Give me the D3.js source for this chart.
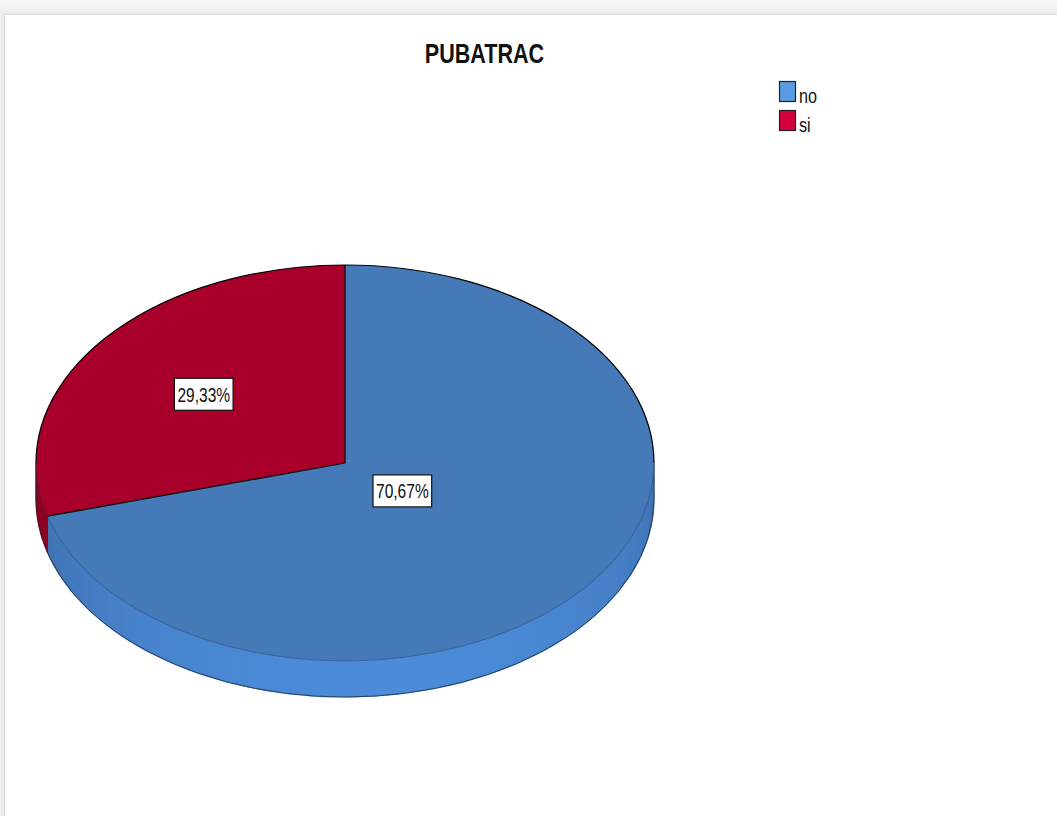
<!DOCTYPE html>
<html>
<head>
<meta charset="utf-8">
<script src="https://cdn.jsdelivr.net/npm/d3@7"></script>
<style>
  html, body { margin: 0; padding: 0; background: #f2f2f2; }
  svg { display: block; }
  text { font-family: "Liberation Sans", Arial, sans-serif; }
</style>
</head>
<body>
<svg id="chart" width="1057" height="816"></svg>
<script>
// Chart data
const title = "PUBATRAC";
const categories = ["no", "si"];
const percents = [70.67, 29.33];

// Colours: legend swatch, top face, side face (front / edge)
const swatchColors = ["#5a9ae2", "#d2003c"];
const topColors = ["#4579b8", "#a8002a"];
const sideFront = ["#4b8bd8", "#a3002a"];
const sideEdge = ["#3c6aa6", "#8a0020"];

// Layout
const W = 1057, H = 816;
const cx = 345, cy = 463, rx = 309, ry = 198, depth = 36;
const labelRadius = [0.233, 0.574];
const squeeze = 0.77; // horizontal text compression

const svg = d3.select("#chart");

// Frame and panel
const bgGrad = svg.append("defs").append("linearGradient")
  .attr("id", "frameGrad").attr("x1", 0).attr("y1", 0).attr("x2", 0).attr("y2", 1);
bgGrad.append("stop").attr("offset", 0).attr("stop-color", "#f8f8f8");
bgGrad.append("stop").attr("offset", 1).attr("stop-color", "#ececec");
svg.append("rect").attr("x", 0).attr("y", 0).attr("width", W).attr("height", 14)
  .attr("fill", "url(#frameGrad)");
svg.append("rect").attr("x", 0).attr("y", 14).attr("width", 4).attr("height", H - 14)
  .attr("fill", "#ececec");
svg.append("rect").attr("x", 4).attr("y", 14).attr("width", W - 4).attr("height", H - 14)
  .attr("fill", "#ffffff");
svg.append("path").attr("d", `M4.5,${H} V14.5 H${W}`)
  .attr("fill", "none").attr("stroke", "#dcdcdc");

// Title
svg.append("text")
  .attr("transform", `translate(484.5,63) scale(${squeeze},1)`)
  .attr("text-anchor", "middle")
  .attr("font-size", 28).attr("font-weight", "bold").attr("fill", "#111")
  .text(title);

// Pie geometry
const pie = d3.pie().sort(null).value(d => d);
const arcs = pie(percents);

const pt = (a, dy = 0) => [cx + rx * Math.sin(a), cy - ry * Math.cos(a) + dy];

// Side faces: only the front half (angles between PI/2 and 3PI/2) is visible
const sideG = svg.append("g");
arcs.forEach((d, i) => {
  const a0 = Math.max(d.startAngle, Math.PI / 2);
  const a1 = Math.min(d.endAngle, 3 * Math.PI / 2);
  if (a1 <= a0) return;
  const steps = Math.max(2, Math.ceil((a1 - a0) / 0.07));
  const shade = d3.interpolateRgb(sideEdge[i], sideFront[i]);
  for (let s = 0; s < steps; s++) {
    const b0 = a0 + (a1 - a0) * s / steps;
    const b1 = a0 + (a1 - a0) * (s + 1) / steps;
    const mid = (b0 + b1) / 2;
    const t = Math.max(0, Math.cos(mid - Math.PI * 0.97));
    const c = shade(Math.pow(t, 0.8));
    const p0 = pt(b0), p1 = pt(b1), q1 = pt(b1, depth), q0 = pt(b0, depth);
    sideG.append("path")
      .attr("d", `M${p0} A${rx},${ry} 0 0 1 ${p1} L${q1} A${rx},${ry} 0 0 0 ${q0} Z`)
      .attr("fill", c)
      .attr("stroke", c).attr("stroke-width", 1.2).attr("stroke-linejoin", "round");
  }
});

// Silhouette of the side wall
{
  const l0 = pt(3 * Math.PI / 2), r0 = pt(Math.PI / 2);
  const l1 = pt(3 * Math.PI / 2, depth), r1 = pt(Math.PI / 2, depth);
  svg.append("path")
    .attr("d", `M${r0} L${r1} A${rx},${ry} 0 0 1 ${l1} L${l0}`)
    .attr("fill", "none").attr("stroke", "#1c2a3a").attr("stroke-width", 1)
    .attr("stroke-opacity", 0.75);
}

// Top faces
const topG = svg.append("g");
arcs.forEach((d, i) => {
  const p0 = pt(d.startAngle), p1 = pt(d.endAngle);
  const large = d.endAngle - d.startAngle > Math.PI ? 1 : 0;
  topG.append("path")
    .attr("d", `M${cx},${cy} L${p0} A${rx},${ry} 0 ${large} 1 ${p1} Z`)
    .attr("fill", topColors[i]);
});

// Front rim of the top face (subtle) and back rim (dark)
topG.append("path")
  .attr("d", `M${pt(Math.PI / 2)} A${rx},${ry} 0 0 1 ${pt(3 * Math.PI / 2)}`)
  .attr("fill", "none").attr("stroke", "#1a2d48").attr("stroke-opacity", 0.35);
topG.append("path")
  .attr("d", `M${pt(3 * Math.PI / 2)} A${rx},${ry} 0 0 1 ${pt(Math.PI / 2)}`)
  .attr("fill", "none").attr("stroke", "#000").attr("stroke-width", 1.2);

// Radial slice borders
arcs.forEach(d => {
  topG.append("path")
    .attr("d", `M${cx},${cy} L${pt(d.startAngle)}`)
    .attr("stroke", "#000").attr("stroke-width", 1.2);
});

// Value labels
const fmt = v => d3.format(".2f")(v).replace(".", ",") + "%";
arcs.forEach((d, i) => {
  const mid = (d.startAngle + d.endAngle) / 2;
  const [lx, ly] = [cx + rx * labelRadius[i] * Math.sin(mid), cy - ry * labelRadius[i] * Math.cos(mid)];
  const g = svg.append("g").attr("transform", `translate(${lx},${ly})`);
  const rect = g.append("rect");
  const txt = g.append("text")
    .attr("transform", `scale(${0.74},1)`)
    .attr("text-anchor", "middle").attr("dy", "0.36em")
    .attr("font-size", 21).attr("fill", "#111")
    .text(fmt(d.data));
  const w = txt.node().getBBox().width * 0.74 + 6;
  const h = 32;
  rect.attr("x", -w / 2).attr("y", -h / 2).attr("width", w).attr("height", h)
    .attr("fill", "#fff").attr("stroke", "#111").attr("stroke-width", 1.2);
});

// Legend
const leg = svg.append("g");
categories.forEach((c, i) => {
  const y = 81 + i * 29;
  leg.append("rect").attr("x", 779.5).attr("y", y + 0.5).attr("width", 16).attr("height", 20)
    .attr("fill", swatchColors[i]).attr("stroke", "#222").attr("stroke-width", 1.2);
  leg.append("text")
    .attr("transform", `translate(799,${y + 22}) scale(${squeeze},1)`)
    .attr("font-size", 21).attr("fill", "#111")
    .text(c);
});
</script>
</body>
</html>
